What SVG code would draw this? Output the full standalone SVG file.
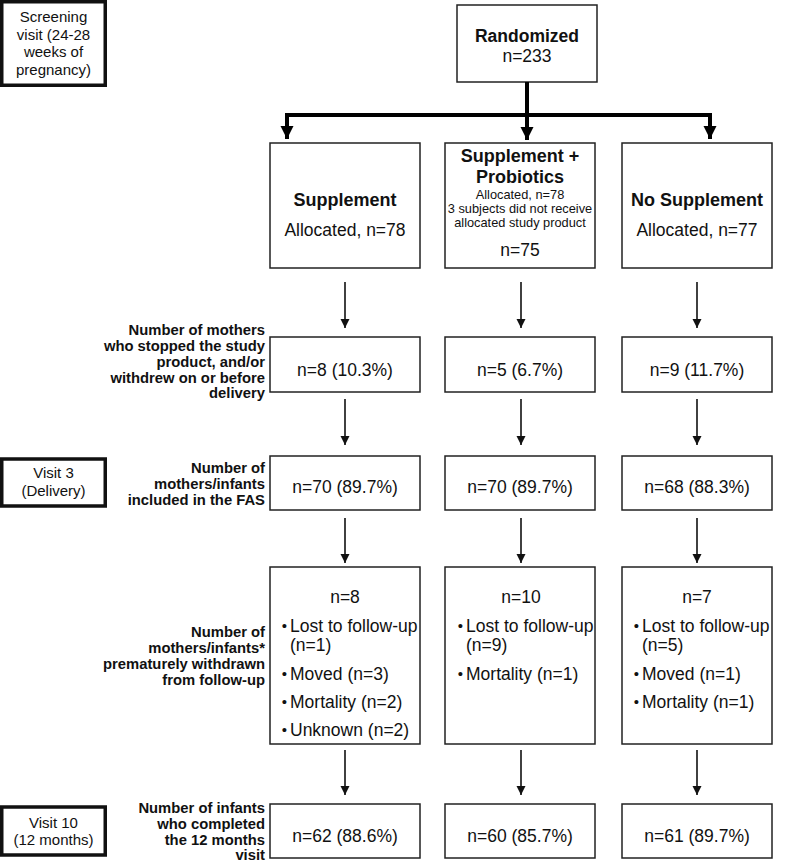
<svg xmlns="http://www.w3.org/2000/svg" width="787" height="863" viewBox="0 0 787 863">
<style>
text{font-family:"Liberation Sans",Arial,sans-serif;fill:#111}
.box{fill:#fff;stroke:#222;stroke-width:1.5}
.side{fill:#fff;stroke:#111;stroke-width:3.5}
.t{font-size:17.5px;text-anchor:middle}
.b{font-size:18px;font-weight:bold;text-anchor:middle}
.s{font-size:12.8px;text-anchor:middle}
.sv{font-size:15px;text-anchor:middle}
.lab{font-size:14.8px;font-weight:bold;text-anchor:end}
.li{font-size:17.5px}
.bul{font-size:15px;text-anchor:middle}
.thin{stroke:#111;stroke-width:1.6;fill:none;marker-end:url(#ah)}
.thick{stroke:#000;stroke-width:4;fill:none}
</style>
<defs>
<marker id="ah" markerUnits="userSpaceOnUse" markerWidth="10" markerHeight="12" refX="9" refY="4.5" orient="auto">
<path d="M0,0 L9,4.5 L0,9 Z" fill="#111"/>
</marker>
<marker id="ahb" markerUnits="userSpaceOnUse" markerWidth="14" markerHeight="14" refX="13" refY="6.5" orient="auto">
<path d="M0,0 L13,6.5 L0,13 Z" fill="#000"/>
</marker>
</defs>

<g id="screening">
<rect class="side" x="1.75" y="1.75" width="103.5" height="83.5"/>
<text class="sv" x="53.5" y="22">Screening</text>
<text class="sv" x="53.5" y="39.5">visit (24-28</text>
<text class="sv" x="53.5" y="57">weeks of</text>
<text class="sv" x="53.5" y="74.5">pregnancy)</text>
</g>
<g id="visit3">
<rect class="side" x="1.75" y="459" width="103.5" height="47"/>
<text class="sv" x="53.5" y="478">Visit 3</text>
<text class="sv" x="53.5" y="496">(Delivery)</text>
</g>
<g id="visit10">
<rect class="side" x="1.75" y="807" width="103.5" height="48"/>
<text class="sv" x="53.5" y="828">Visit 10</text>
<text class="sv" x="53.5" y="845">(12 months)</text>
</g>

<g id="labels">
<text class="lab" x="265" y="335">Number of mothers</text>
<text class="lab" x="265" y="351">who stopped the study</text>
<text class="lab" x="265" y="367">product, and/or</text>
<text class="lab" x="265" y="383">withdrew on or before</text>
<text class="lab" x="265" y="398">delivery</text>
<text class="lab" x="265" y="473">Number of</text>
<text class="lab" x="265" y="489">mothers/infants</text>
<text class="lab" x="265" y="505">included in the FAS</text>
<text class="lab" x="265" y="637">Number of</text>
<text class="lab" x="265" y="653">mothers/infants*</text>
<text class="lab" x="265" y="669">prematurely withdrawn</text>
<text class="lab" x="265" y="685">from follow-up</text>
<text class="lab" x="265" y="813">Number of infants</text>
<text class="lab" x="265" y="829">who completed</text>
<text class="lab" x="265" y="845">the 12 months</text>
<text class="lab" x="265" y="860">visit</text>
</g>

<g id="randomized">
<rect class="box" x="457" y="5" width="140" height="77"/>
<text class="b" x="527" y="42" style="font-size:17.5px">Randomized</text>
<text class="t" x="527" y="62">n=233</text>
</g>

<g id="supplement">
<rect class="box" x="270" y="143" width="150" height="125"/>
<text class="b" x="345" y="206">Supplement</text>
<text class="t" x="345" y="236">Allocated, n=78</text>
</g>
<g id="supplement-probiotics">
<rect class="box" x="445" y="143" width="150" height="125"/>
<text class="b" x="520" y="162">Supplement +</text>
<text class="b" x="520" y="183">Probiotics</text>
<text class="s" x="520" y="199">Allocated, n=78</text>
<text class="s" x="520" y="213">3 subjects did not receive</text>
<text class="s" x="520" y="227">allocated study product</text>
<text class="t" x="520" y="256">n=75</text>
</g>
<g id="no-supplement">
<rect class="box" x="622" y="143" width="150" height="125"/>
<text class="b" x="697" y="206">No Supplement</text>
<text class="t" x="697" y="236">Allocated, n=77</text>
</g>

<g id="stopped-1"><rect class="box" x="270" y="337" width="150" height="55"/><text class="t" x="345" y="376">n=8 (10.3%)</text></g>
<g id="stopped-2"><rect class="box" x="445" y="337" width="150" height="55"/><text class="t" x="520" y="376">n=5 (6.7%)</text></g>
<g id="stopped-3"><rect class="box" x="622" y="337" width="150" height="55"/><text class="t" x="697" y="376">n=9 (11.7%)</text></g>

<g id="fas-1"><rect class="box" x="270" y="456" width="150" height="54"/><text class="t" x="345" y="493">n=70 (89.7%)</text></g>
<g id="fas-2"><rect class="box" x="445" y="456" width="150" height="54"/><text class="t" x="520" y="493">n=70 (89.7%)</text></g>
<g id="fas-3"><rect class="box" x="622" y="456" width="150" height="54"/><text class="t" x="697" y="493">n=68 (88.3%)</text></g>

<g id="withdrawn-1">
<rect class="box" x="270" y="567" width="150" height="177"/>
<text class="t" x="345" y="603">n=8</text>
<text class="bul" x="284.5" y="631">•</text><text class="li" x="290" y="632">Lost to follow-up</text>
<text class="li" x="290" y="651">(n=1)</text>
<text class="bul" x="284.5" y="679">•</text><text class="li" x="290" y="680">Moved (n=3)</text>
<text class="bul" x="284.5" y="707">•</text><text class="li" x="290" y="708">Mortality (n=2)</text>
<text class="bul" x="284.5" y="735">•</text><text class="li" x="290" y="736">Unknown (n=2)</text>
</g>
<g id="withdrawn-2">
<rect class="box" x="445" y="567" width="150" height="177"/>
<text class="t" x="521" y="603">n=10</text>
<text class="bul" x="460.5" y="631">•</text><text class="li" x="466" y="632">Lost to follow-up</text>
<text class="li" x="466" y="651">(n=9)</text>
<text class="bul" x="460.5" y="679">•</text><text class="li" x="466" y="680">Mortality (n=1)</text>
</g>
<g id="withdrawn-3">
<rect class="box" x="622" y="567" width="150" height="177"/>
<text class="t" x="697" y="603">n=7</text>
<text class="bul" x="636.5" y="631">•</text><text class="li" x="642" y="632">Lost to follow-up</text>
<text class="li" x="642" y="651">(n=5)</text>
<text class="bul" x="636.5" y="679">•</text><text class="li" x="642" y="680">Moved (n=1)</text>
<text class="bul" x="636.5" y="707">•</text><text class="li" x="642" y="708">Mortality (n=1)</text>
</g>

<g id="completed-1"><rect class="box" x="270" y="804" width="150" height="54"/><text class="t" x="345" y="842">n=62 (88.6%)</text></g>
<g id="completed-2"><rect class="box" x="445" y="804" width="150" height="54"/><text class="t" x="520" y="842">n=60 (85.7%)</text></g>
<g id="completed-3"><rect class="box" x="622" y="804" width="150" height="54"/><text class="t" x="697" y="842">n=61 (89.7%)</text></g>

<g id="connectors">
<path class="thick" d="M527,82 V115 M285,115 H712"/>
<path class="thick" d="M287,115 V139" marker-end="url(#ahb)"/>
<path class="thick" d="M527,115 V140" marker-end="url(#ahb)"/>
<path class="thick" d="M710,115 V139" marker-end="url(#ahb)"/>
<path class="thin" d="M345,282 V328"/>
<path class="thin" d="M521,282 V328"/>
<path class="thin" d="M697,282 V328"/>
<path class="thin" d="M345,399 V445"/>
<path class="thin" d="M521,399 V445"/>
<path class="thin" d="M697,399 V445"/>
<path class="thin" d="M345,518 V563"/>
<path class="thin" d="M521,518 V563"/>
<path class="thin" d="M697,518 V563"/>
<path class="thin" d="M345,750 V795"/>
<path class="thin" d="M521,750 V795"/>
<path class="thin" d="M697,750 V795"/>
</g>
</svg>
